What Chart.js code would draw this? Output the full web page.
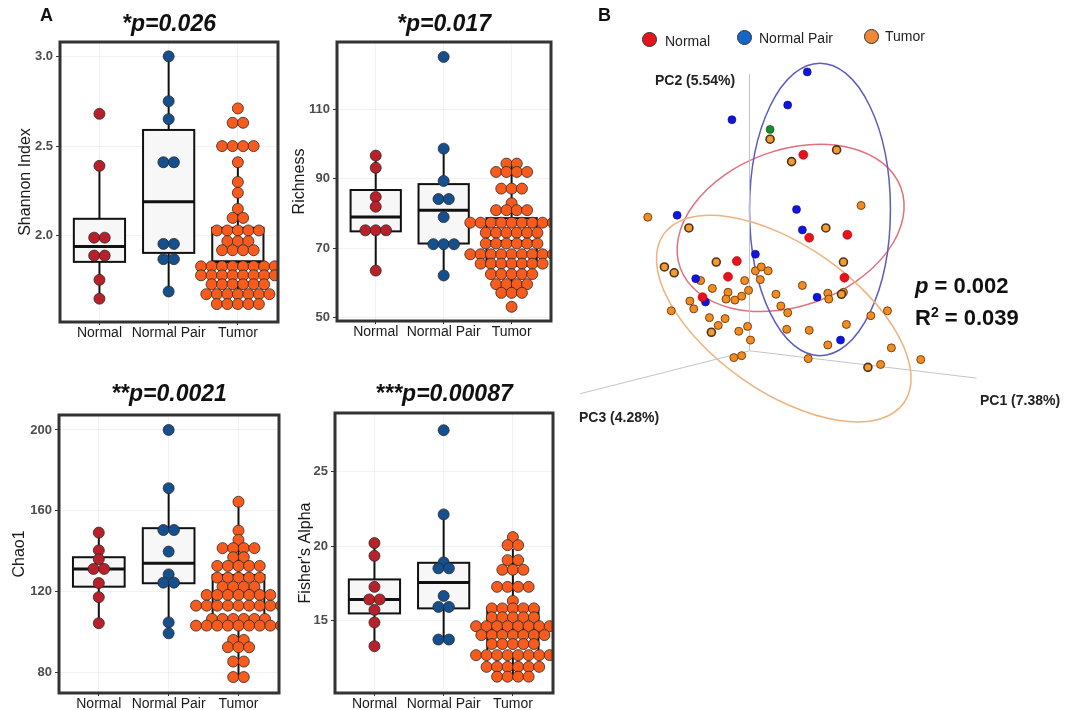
<!DOCTYPE html>
<html>
<head>
<meta charset="utf-8">
<script src="https://cdn.jsdelivr.net/npm/chart.js@4.4.1/dist/chart.umd.min.js"></script>
<style>
  body { margin: 0; background: #fff; font-family: "Liberation Sans", Arial, sans-serif; }
  #page { position: relative; width: 1077px; height: 710px; overflow: hidden; }
  canvas { position: absolute; }
  .txt { position: absolute; white-space: nowrap; color: #111; }
  .tag { font-weight: bold; font-size: 18px; }
  .pc { font-weight: bold; font-size: 14px; color: #222; }
  .stat { font-weight: bold; font-size: 22px; }
  .leg { font-size: 14px; color: #222; }
  .dot { position: absolute; width: 13px; height: 13px; border-radius: 50%; border: 1px solid #333; }
</style>
</head>
<body>
<div id="page">
  <canvas id="shannon" width="290" height="350" style="left:0;top:0"></canvas>
  <canvas id="richness" width="300" height="350" style="left:290px;top:0"></canvas>
  <canvas id="chao" width="290" height="350" style="left:0;top:370px"></canvas>
  <canvas id="fisher" width="300" height="350" style="left:290px;top:370px"></canvas>
  <canvas id="pcoa" width="517" height="450" style="left:560px;top:0"></canvas>

  <div class="txt tag" style="left:40px;top:5px">A</div>
  <div class="txt tag" style="left:598px;top:5px">B</div>

  <div class="dot" style="left:642px;top:32px;background:#e8141c"></div>
  <div class="txt leg" style="left:665px;top:33px">Normal</div>
  <div class="dot" style="left:737px;top:30px;background:#1466c8"></div>
  <div class="txt leg" style="left:759px;top:30px">Normal Pair</div>
  <div class="dot" style="left:864px;top:29px;background:#f0883a"></div>
  <div class="txt leg" style="left:885px;top:28px">Tumor</div>

  <div class="txt pc" style="left:655px;top:72px">PC2 (5.54%)</div>
  <div class="txt pc" style="left:980px;top:392px">PC1 (7.38%)</div>
  <div class="txt pc" style="left:579px;top:409px">PC3 (4.28%)</div>

  <div class="txt stat" style="left:915px;top:273px"><i>p</i> = 0.002</div>
  <div class="txt stat" style="left:915px;top:304px">R<sup style="font-size:14px">2</sup> = 0.039</div>
</div>

<script>
const groups = ['Normal', 'Normal Pair', 'Tumor'];
const groupColors = ['#b8202a', '#154f8e', '#f95b1c'];

// Shannon index
const shannonNormal = [2.68, 2.39, 1.99, 1.99, 1.89, 1.89, 1.755, 1.65];
const shannonPair = [3.0, 2.75, 2.65, 2.41, 2.41, 1.955, 1.955, 1.87, 1.87, 1.69];
const shannonTumor = [
  2.71, 2.63, 2.63, 2.50, 2.50, 2.50, 2.50, 2.41, 2.30, 2.24, 2.15, 2.10, 2.10,
  2.03, 2.03, 2.03, 2.03, 2.03, 1.97, 1.97, 1.97, 1.92, 1.92, 1.92, 1.92,
  1.83, 1.83, 1.83, 1.83, 1.83, 1.83, 1.83, 1.83,
  1.78, 1.78, 1.78, 1.78, 1.78, 1.78, 1.78, 1.78,
  1.73, 1.73, 1.73, 1.73, 1.73, 1.73,
  1.675, 1.675, 1.675, 1.675, 1.675, 1.675, 1.675,
  1.62, 1.62, 1.62, 1.62, 1.62
];
// [lower whisker, q1, median, q3, upper whisker]
const shannonBox = [[1.65, 1.855, 1.94, 2.095, 2.39], [1.69, 1.905, 2.19, 2.59, 3.0], [1.62, 1.74, 1.855, 2.045, 2.41]];
const shannonTicks = [2.0, 2.5, 3.0];

// Richness
const richnessNormal = [96.7, 93.2, 84.8, 82, 75.2, 75.2, 75.2, 63.6];
const richnessPair = [125.1, 98.7, 89.4, 84.2, 84.2, 79, 71.2, 71.2, 71.2, 62.2];
const richnessTumor = [
  94.4, 94.4, 92, 92, 92, 92, 87.2, 87.2, 87.2, 83, 81, 81, 81, 81,
  77.4, 77.4, 77.4, 77.4, 77.4, 77.4, 77.4, 77.4, 77.4,
  74.5, 74.5, 74.5, 74.5, 74.5, 74.5, 71.4, 71.4, 71.4, 71.4, 71.4, 71.4,
  68.3, 68.3, 68.3, 68.3, 68.3, 68.3, 68.3, 68.3, 68.3,
  65.6, 65.6, 65.6, 65.6, 65.6, 65.6, 65.6, 62.6, 62.6, 62.6, 62.6, 62.6,
  59.7, 59.7, 59.7, 59.7, 57.2, 57.2, 57.2, 53.2
];
const richnessBox = [[63.6, 74.9, 79.0, 86.8, 96.7], [62.2, 71.4, 81.0, 88.5, 98.7], [57.2, 65, 72, 78.7, 94.4]];
const richnessTicks = [50, 70, 90, 110];

// Chao1
const chaoNormal = [149.1, 140.3, 135.9, 131.1, 131.1, 124.1, 117.1, 104.2];
const chaoPair = [200, 171.1, 150.4, 150.4, 139.7, 128.4, 124.3, 124.3, 104.6, 99.2];
const chaoTumor = [
  164.4, 150.1, 145.5, 141.4, 141.4, 141.4, 141.4, 136.9, 136.9,
  132.6, 132.6, 132.6, 132.6, 132.6, 126.8, 126.8, 126.8, 126.8, 126.8,
  122.3, 122.3, 122.3, 122.3, 118.2, 118.2, 118.2, 118.2, 118.2, 118.2, 118.2,
  112.9, 112.9, 112.9, 112.9, 112.9, 112.9, 112.9, 112.9, 112.9,
  106.3, 106.3, 106.3, 106.3, 106.3, 106.3,
  103, 103, 103, 103, 103, 103, 103, 103, 103,
  95.9, 95.9, 92.3, 92.3, 92.3, 85.2, 85.2, 77.5, 77.5
];
const chaoBox = [[104.2, 122.3, 131.1, 136.9, 149.1], [99.2, 124.0, 133.9, 151.3, 171.1], [77.5, 104.5, 113, 128.1, 164.4]];
const chaoTicks = [80, 120, 160, 200];

// Fisher's alpha
const fisherNormal = [20.2, 19.34, 17.25, 16.4, 16.4, 15.7, 14.85, 13.25];
const fisherPair = [27.8, 22.13, 18.9, 18.5, 18.5, 16.64, 15.9, 15.9, 13.7, 13.7];
const fisherTumor = [
  20.6, 20.06, 20.06, 19.05, 19.05, 18.4, 18.4, 18.4, 17.25, 17.25, 17.25, 17.25, 16.3,
  15.8, 15.8, 15.8, 15.8, 15.8, 15.2, 15.2, 15.2, 15.2, 15.2,
  14.6, 14.6, 14.6, 14.6, 14.6, 14.6, 14.6, 14.6, 14.0, 14.0, 14.0, 14.0, 14.0, 14.0, 14.0,
  13.4, 13.4, 13.4, 13.4, 13.4, 12.65, 12.65, 12.65, 12.65, 12.65, 12.65, 12.65, 12.65,
  11.86, 11.86, 11.86, 11.86, 11.86, 11.86, 11.2, 11.2, 11.2, 11.2
];
const fisherBox = [[13.25, 15.46, 16.4, 17.75, 20.2], [13.7, 15.8, 17.55, 18.87, 22.13], [11.2, 12.6, 14.45, 15.84, 19.8]];
const fisherTicks = [15, 20, 25];

// PCoA (projected coordinates of the 3D plot)
const pcNormal = [[0.55, 2.01], [0.61, 1.16], [1.00, 1.19], [-0.13, 0.92], [-0.22, 0.76], [0.97, 0.75], [-0.48, 0.55]];
const pcPair = [[0.59, 2.86], [0.39, 2.52], [-0.18, 2.37], [0.48, 1.45], [-0.74, 1.39], [0.54, 1.24], [0.06, 0.99],
  [-0.55, 0.74], [-0.45, 0.50], [0.69, 0.55], [0.93, 0.11]];
const pcOther = [[0.21, 2.27]];
const pcTumorRing = [[0.21, 2.17], [0.89, 2.06], [0.43, 1.94], [-0.62, 1.26], [0.78, 1.26], [-0.34, 0.91], [-0.87, 0.86],
  [-0.77, 0.80], [0.96, 0.91], [0.94, 0.58], [-0.39, 0.19], [1.21, -0.17]];
const pcTumor = [[1.14, 1.49], [-1.04, 1.37], [-0.50, 0.72], [0.06, 0.82], [0.12, 0.86], [0.19, 0.82], [-0.05, 0.72],
  [0.11, 0.73], [0.54, 0.67], [-0.38, 0.64], [-0.22, 0.60], [-0.01, 0.62], [0.27, 0.58], [0.80, 0.59], [0.96, 0.60],
  [-0.61, 0.51], [-0.24, 0.53], [-0.15, 0.52], [-0.08, 0.56], [0.81, 0.53], [-0.57, 0.43], [0.32, 0.46], [0.39, 0.39],
  [-0.80, 0.41], [-0.41, 0.34], [-0.25, 0.33], [1.24, 0.36], [1.41, 0.41], [-0.32, 0.26], [-0.02, 0.25], [0.99, 0.27],
  [-0.11, 0.20], [0.38, 0.22], [0.61, 0.21], [0.01, 0.11], [0.80, 0.06], [1.45, 0.03], [-0.16, -0.07], [-0.08, -0.05],
  [0.60, -0.08], [1.75, -0.09], [1.34, -0.14]];
const pcAxisEnds = [[2.32, -0.28], [0, 2.84], [-1.73, -0.44]];
const ellipseCenters = [[0.42, 1.26], [0.72, 1.45], [0.35, 0.33]];
const ellipseRadii = [[1.20, 0.80], [0.72, 1.50], [1.50, 0.75]];
const ellipseAngles = [-20, 0, 35];
const ellipseColors = ['#e0707e', '#5b5bc4', '#f0b27a'];

const FONT = '"Liberation Sans", Arial, sans-serif';

function swarm(values, center, step) {
  const counts = new Map();
  values.forEach(v => counts.set(v, (counts.get(v) || 0) + 1));
  const pts = [];
  counts.forEach((n, v) => {
    for (let i = 0; i < n; i++) pts.push({ x: center + (i - (n - 1) / 2) * step, y: v });
  });
  return pts;
}

const panelTitle = {
  id: 'panelTitle',
  afterDraw(chart, args, opts) {
    const { ctx, chartArea } = chart;
    ctx.save();
    ctx.font = 'italic bold 23px ' + FONT;
    ctx.fillStyle = '#111';
    ctx.textAlign = 'center';
    ctx.textBaseline = 'middle';
    ctx.fillText(opts.text, (chartArea.left + chartArea.right) / 2, opts.y);
    ctx.restore();
  }
};

const boxes = {
  id: 'boxes',
  beforeDatasetsDraw(chart, args, opts) {
    const { ctx, scales: { x, y } } = chart;
    ctx.save();
    ctx.strokeStyle = '#111';
    opts.stats.forEach((s, i) => {
      const cx = x.getPixelForValue(i + 1);
      const hw = x.getPixelForValue(i + 1 + 0.37) - cx;
      const [lo, q1, med, q3, hi] = s.map(v => y.getPixelForValue(v));
      ctx.lineWidth = 2;
      ctx.beginPath();
      ctx.moveTo(cx, hi); ctx.lineTo(cx, q3);
      ctx.moveTo(cx, q1); ctx.lineTo(cx, lo);
      ctx.stroke();
      ctx.fillStyle = '#f7f7f7';
      ctx.fillRect(cx - hw, q3, 2 * hw, q1 - q3);
      ctx.strokeRect(cx - hw, q3, 2 * hw, q1 - q3);
      ctx.lineWidth = 3;
      ctx.beginPath();
      ctx.moveTo(cx - hw, med); ctx.lineTo(cx + hw, med);
      ctx.stroke();
    });
    ctx.restore();
  },
  afterDatasetsDraw(chart) {
    const { ctx, chartArea: a } = chart;
    ctx.save();
    ctx.strokeStyle = '#333';
    ctx.lineWidth = 3;
    ctx.strokeRect(a.left, a.top, a.right - a.left, a.bottom - a.top);
    ctx.restore();
  }
};

function drawAlphaPlot(id, series, stats, yMin, yMax, yTicks, yTitle, title, digits, lay) {
  new Chart(document.getElementById(id), {
    type: 'scatter',
    data: {
      datasets: series.map((vals, i) => ({
        data: swarm(vals, i + 1, 0.152),
        backgroundColor: groupColors[i],
        borderColor: '#2a2a2a',
        borderWidth: 0.8,
        pointRadius: 5.5
      }))
    },
    options: {
      responsive: false,
      animation: false,
      layout: { padding: { top: lay.top, right: lay.right, left: 0, bottom: 0 } },
      plugins: {
        legend: { display: false },
        tooltip: { enabled: false },
        panelTitle: { text: title, y: 25 },
        boxes: { stats: stats }
      },
      scales: {
        x: {
          type: 'linear', min: 0.43, max: 3.58,
          afterBuildTicks: s => { s.ticks = [1, 2, 3].map(v => ({ value: v })); },
          afterFit: s => { s.height = lay.xh; },
          ticks: { callback: v => groups[v - 1], autoSkip: false, maxRotation: 0, padding: 0,
            font: { family: FONT, size: 14 }, color: '#1a1a1a' },
          grid: { color: 'rgba(0,0,0,0.05)', tickColor: '#333', tickLength: 3 },
          border: { display: false }
        },
        y: {
          min: yMin, max: yMax,
          afterBuildTicks: s => { s.ticks = yTicks.map(v => ({ value: v })); },
          afterFit: s => { s.width = lay.yw; },
          ticks: { callback: v => v.toFixed(digits), padding: 3,
            font: { family: FONT, size: 13, weight: 'bold' }, color: '#4d4d4d' },
          grid: { color: 'rgba(0,0,0,0.05)', tickColor: '#333', tickLength: 4 },
          border: { display: false },
          title: { display: true, text: yTitle, color: '#1a1a1a', padding: { top: lay.tp, bottom: 0 },
            font: { family: FONT, size: 16 } }
        }
      }
    },
    plugins: [panelTitle, boxes]
  });
}

drawAlphaPlot('shannon', [shannonNormal, shannonPair, shannonTumor], shannonBox, 1.52, 3.08, shannonTicks,
  'Shannon Index', '*p=0.026', 1, { top: 42, right: 12, xh: 28, yw: 60, tp: 16 });
drawAlphaPlot('richness', [richnessNormal, richnessPair, richnessTumor], richnessBox, 49.1, 129.4, richnessTicks,
  'Richness', '*p=0.017', 0, { top: 42, right: 39, xh: 29, yw: 47, tp: 0 });
drawAlphaPlot('chao', [chaoNormal, chaoPair, chaoTumor], chaoBox, 69.6, 207.4, chaoTicks,
  'Chao1', '**p=0.0021', 0, { top: 45, right: 11, xh: 27, yw: 59, tp: 10 });
drawAlphaPlot('fisher', [fisherNormal, fisherPair, fisherTumor], fisherBox, 10.1, 28.96, fisherTicks,
  "Fisher's Alpha", '***p=0.00087', 0, { top: 43, right: 37, xh: 27, yw: 45, tp: 6 });

// PCoA panel
const ellipses = {
  id: 'ellipses',
  beforeDatasetsDraw(chart) {
    const { ctx, scales: { x, y } } = chart;
    ctx.save();
    ctx.lineWidth = 1.5;
    ellipseCenters.forEach((c, i) => {
      const px = x.getPixelForValue(c[0]);
      const py = y.getPixelForValue(c[1]);
      const rx = x.getPixelForValue(c[0] + ellipseRadii[i][0]) - px;
      const ry = py - y.getPixelForValue(c[1] + ellipseRadii[i][1]);
      ctx.strokeStyle = ellipseColors[i];
      ctx.beginPath();
      ctx.ellipse(px, py, rx, ry, ellipseAngles[i] * Math.PI / 180, 0, Math.PI * 2);
      ctx.stroke();
    });
    ctx.restore();
  }
};

const toXY = arr => arr.map(p => ({ x: p[0], y: p[1] }));
const axisSets = pcAxisEnds.map(e => ({
  data: [{ x: 0, y: 0 }, { x: e[0], y: e[1] }],
  showLine: true, borderColor: '#c4c4c4', borderWidth: 1, pointRadius: 0, order: 10
}));

new Chart(document.getElementById('pcoa'), {
  type: 'scatter',
  data: {
    datasets: [
      { label: 'Normal', data: toXY(pcNormal), backgroundColor: '#e8101a', borderColor: '#a80000', borderWidth: 0.6, pointRadius: 4.5 },
      { label: 'Normal Pair', data: toXY(pcPair), backgroundColor: '#1014dc', borderColor: '#0a0a90', borderWidth: 0.6, pointRadius: 4 },
      { label: 'Other', data: toXY(pcOther), backgroundColor: '#1b8a2c', borderColor: '#0d4a14', borderWidth: 0.6, pointRadius: 4 },
      { label: 'Tumor', data: toXY(pcTumorRing), backgroundColor: '#f59a2e', borderColor: '#4a3420', borderWidth: 1.6, pointRadius: 4 },
      { label: 'Tumor', data: toXY(pcTumor), backgroundColor: '#f28c22', borderColor: '#7a4210', borderWidth: 1, pointRadius: 4 },
      ...axisSets
    ]
  },
  options: {
    responsive: false,
    animation: false,
    layout: { padding: 0 },
    plugins: { legend: { display: false }, tooltip: { enabled: false } },
    scales: {
      x: { type: 'linear', display: false, min: -1.88, max: 3.29 },
      y: { type: 'linear', display: false, min: -0.96, max: 3.54 }
    }
  },
  plugins: [ellipses]
});
</script>
</body>
</html>
